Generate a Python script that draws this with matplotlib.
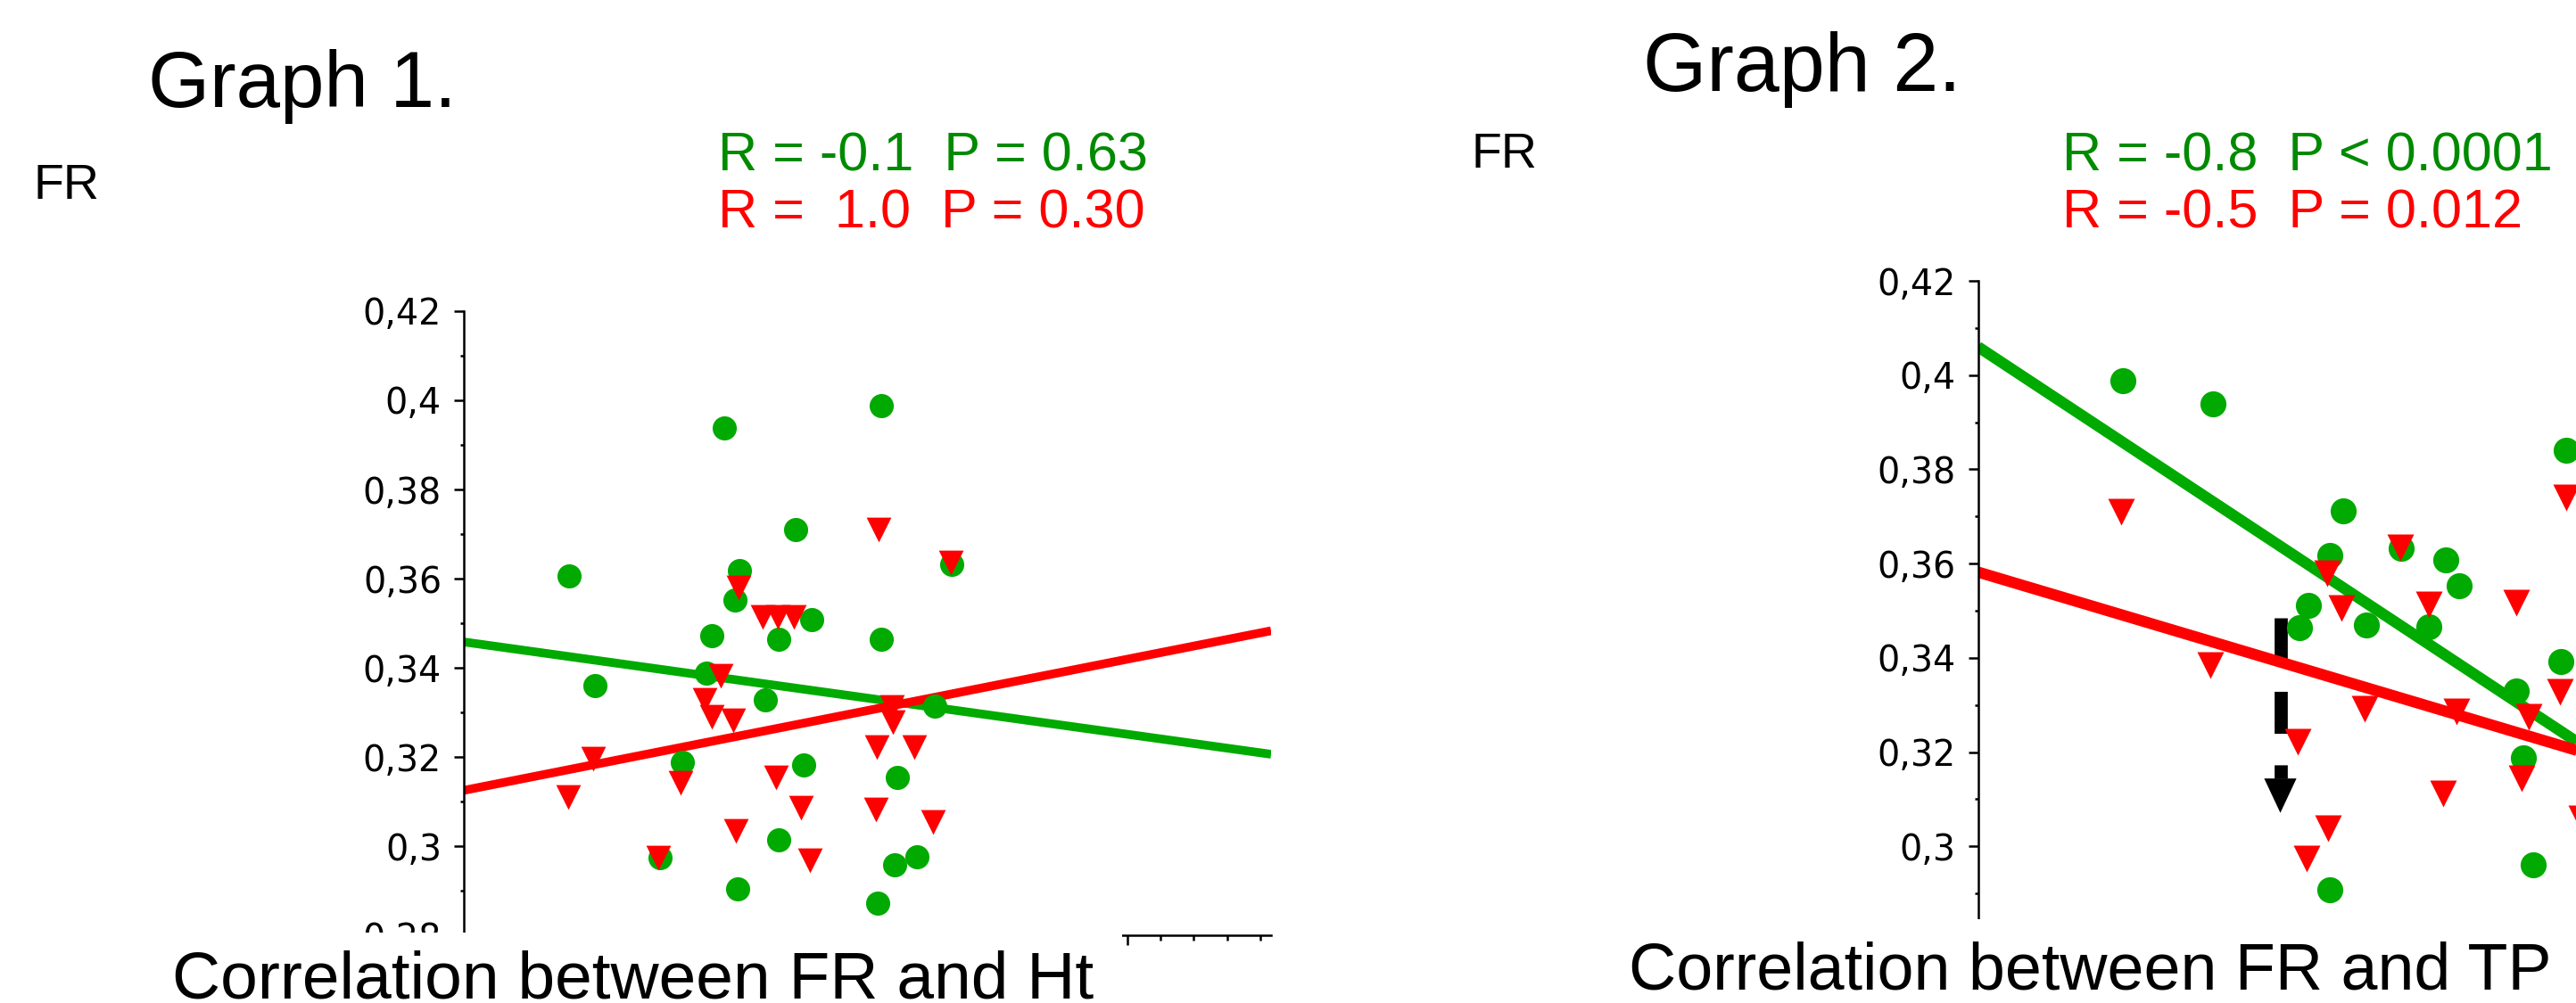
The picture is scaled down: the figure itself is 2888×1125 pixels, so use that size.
import numpy as np
import matplotlib
matplotlib.use("Agg")
import matplotlib.pyplot as plt
from matplotlib.patches import Rectangle, Polygon
from matplotlib.ticker import FixedLocator, MultipleLocator, FuncFormatter

""" Graph 1 : FR vs Ht """
ht_green = [33.17, 37.85, 40.00, 38.31, 38.17, 40.48, 37.47, 39.49, 42.58, 42.58, 44.70, 33.95,
            37.31, 39.09, 36.59, 40.24, 39.49, 35.91, 38.25, 42.47, 44.19, 43.06, 42.98, 43.66]
fr_green_1 = [0.3606, 0.3938, 0.3710, 0.3618, 0.3552, 0.3508, 0.3472, 0.3464, 0.3988, 0.3464, 0.3632, 0.3360,
              0.3388, 0.3328, 0.3188, 0.3182, 0.3014, 0.2974, 0.2904, 0.2872, 0.3314, 0.3154, 0.2958, 0.2976]
ht_red = [38.28, 39.01, 39.46, 39.95, 42.50, 44.68, 37.74, 37.26, 37.47, 38.12, 33.90, 33.15,
          36.53, 39.41, 40.16, 38.20, 40.43, 35.86, 42.90, 42.93, 42.45, 43.58, 42.42, 44.14]
fr_red_1 = [0.3580, 0.3514, 0.3514, 0.3514, 0.3710, 0.3636, 0.3382, 0.3328, 0.3290, 0.3282, 0.3196, 0.3110,
            0.3142, 0.3154, 0.3086, 0.3034, 0.2968, 0.2974, 0.3312, 0.3278, 0.3222, 0.3222, 0.3082, 0.3054]
fit1_x = [30.0, 54.33]
fit1_green = [0.3458, 0.3206]
fit1_red = [0.3125, 0.3483]
stats1 = ["R = -0.1  P = 0.63", "R =  1.0  P = 0.30"]

""" Graph 2 : FR vs TP """
tp_green = [5.716, 6.162, 7.913, 6.808, 6.741, 7.095, 7.316, 7.382, 6.635, 6.591, 6.923, 7.232,
            7.886, 7.665, 7.701, 7.749, 6.741]
fr_green_2 = [0.3988, 0.3939, 0.3841, 0.3712, 0.3617, 0.3632, 0.3608, 0.3553, 0.3511, 0.3464, 0.3470, 0.3466,
              0.3392, 0.3330, 0.3188, 0.2961, 0.2908]
tp_red = [7.913, 5.707, 7.091, 6.728, 6.799, 7.232, 7.665, 6.149, 7.882, 6.914, 7.369, 7.727,
          6.582, 7.692, 7.303, 7.988, 6.733, 6.627]
fr_red_2 = [0.3740, 0.3710, 0.3634, 0.3579, 0.3506, 0.3513, 0.3517, 0.3385, 0.3328, 0.3292, 0.3286, 0.3275,
            0.3222, 0.3144, 0.3112, 0.3059, 0.3038, 0.2974]
fit2_x = [5.0, 9.0]
fit2_green = [0.4060, 0.2930]
fit2_red = [0.3582, 0.3072]
stats2 = ["R = -0.8  P < 0.0001", "R = -0.5  P = 0.012"]

# dashed arrow in graph 2 (x, top, head base, tip)
arrow_x, arrow_top, arrow_head, arrow_tip = 6.498, 0.3485, 0.3144, 0.3071

GREEN = "#00aa00"
RED = "#ff0000"
TXT_GREEN = "#008a00"

plt.rcParams["font.family"] = ["Liberation Sans", "DejaVu Sans"]

W, H = 2888, 1125
fig = plt.figure(figsize=(W / 100, H / 100), dpi=100)


def put(x, y, s, **kw):   # text at pixel position (baseline)
    fig.text(x / W, 1 - y / H, s, va="baseline", **kw)


def setup(ax, xlim, ymin_label):
    ax.set_facecolor("none")
    ax.set_xlim(xlim)
    ax.set_ylim(0.28, 0.42)
    ax.spines[["top", "right"]].set_visible(False)
    for s in ["left", "bottom"]:
        ax.spines[s].set_linewidth(1.8)
    ax.yaxis.set_major_locator(FixedLocator(np.round(np.arange(ymin_label, 0.4201, 0.02), 2)))
    ax.yaxis.set_minor_locator(FixedLocator(np.round(np.arange(0.29, 0.42, 0.02), 2)))
    ax.yaxis.set_major_formatter(FuncFormatter(lambda v, p: f"{v:g}".replace(".", ",")))
    ax.tick_params(axis="y", which="major", length=8, width=1.8, pad=10,
                   labelsize=28.5, labelfontfamily="DejaVu Sans")
    ax.tick_params(axis="y", which="minor", length=3, width=1.8)


""" Graph 1 """
ax1 = fig.add_axes([520 / W, (H - 1049) / H, 905 / W, 700 / H])
setup(ax1, fit1_x, 0.28)
ax1.xaxis.set_major_locator(FixedLocator([40, 50]))
ax1.xaxis.set_minor_locator(MultipleLocator(1))
ax1.tick_params(axis="x", which="major", length=8, width=1.8, labelbottom=False)
ax1.tick_params(axis="x", which="minor", length=4, width=1.8)
ax1.plot(fit1_x, fit1_green, color=GREEN, lw=7, solid_capstyle="butt", zorder=2)
ax1.plot(fit1_x, fit1_red, color=RED, lw=7, solid_capstyle="butt", zorder=2)
ax1.scatter(ht_green, fr_green_1, s=380, marker="o", color=GREEN, linewidths=0, zorder=3, clip_on=False)
ax1.scatter(ht_red, fr_red_1, s=400, marker="v", color=RED, linewidths=0, zorder=4, clip_on=False)

""" Graph 2 """
ax2 = fig.add_axes([2217.6 / W, (H - 1055) / H, 905 / W, 740 / H])
setup(ax2, fit2_x, 0.30)
ax2.spines["bottom"].set_visible(False)
ax2.set_xticks([])
ax2.plot(fit2_x, fit2_green, color=GREEN, lw=9, solid_capstyle="butt", zorder=2)
ax2.plot(fit2_x, fit2_red, color=RED, lw=9, solid_capstyle="butt", zorder=2)
ax2.scatter(tp_green, fr_green_2, s=441, marker="o", color=GREEN, linewidths=0, zorder=3)
ax2.scatter(tp_red, fr_red_2, s=466, marker="v", color=RED, linewidths=0, zorder=4)
ax2.plot([arrow_x, arrow_x], [arrow_top, arrow_head], color="black", lw=10.6,
         dashes=(3.2, 2.4), dash_capstyle="butt", zorder=1.5)
ax2.add_patch(Polygon([[arrow_x - 0.08, arrow_head], [arrow_x + 0.08, arrow_head], [arrow_x, arrow_tip]],
                      closed=True, facecolor="black", edgecolor="none", zorder=1.5))

""" Caption boxes (hide the cut-off bottom of the pasted charts) """
fig.add_artist(Rectangle((0, 0), 1258 / W, (H - 1046) / H, transform=fig.transFigure,
                         facecolor="white", edgecolor="none", zorder=5))
fig.add_artist(Rectangle((1500 / W, 0), (W - 1500) / W, (H - 1031) / H, transform=fig.transFigure,
                         facecolor="white", edgecolor="none", zorder=5))

""" Texts """
put(166, 120, "Graph 1.", fontsize=64, zorder=6)
put(1842, 102, "Graph 2.", fontsize=66, zorder=6)
put(37, 223, "FR", fontsize=40, zorder=6)
put(1649, 188, "FR", fontsize=40, zorder=6)
put(805, 192, stats1[0], fontsize=44, color=TXT_GREEN, zorder=6)
put(805, 256, stats1[1], fontsize=44, color=RED, zorder=6)
put(2312, 192, stats2[0], fontsize=44, color=TXT_GREEN, zorder=6)
put(2312, 256, stats2[1], fontsize=44, color=RED, zorder=6)
put(193, 1120, "Correlation between FR and Ht", fontsize=54, zorder=6)
put(1826, 1110, "Correlation between FR and TP", fontsize=53, zorder=6)

fig.savefig("out.png", dpi=100)
